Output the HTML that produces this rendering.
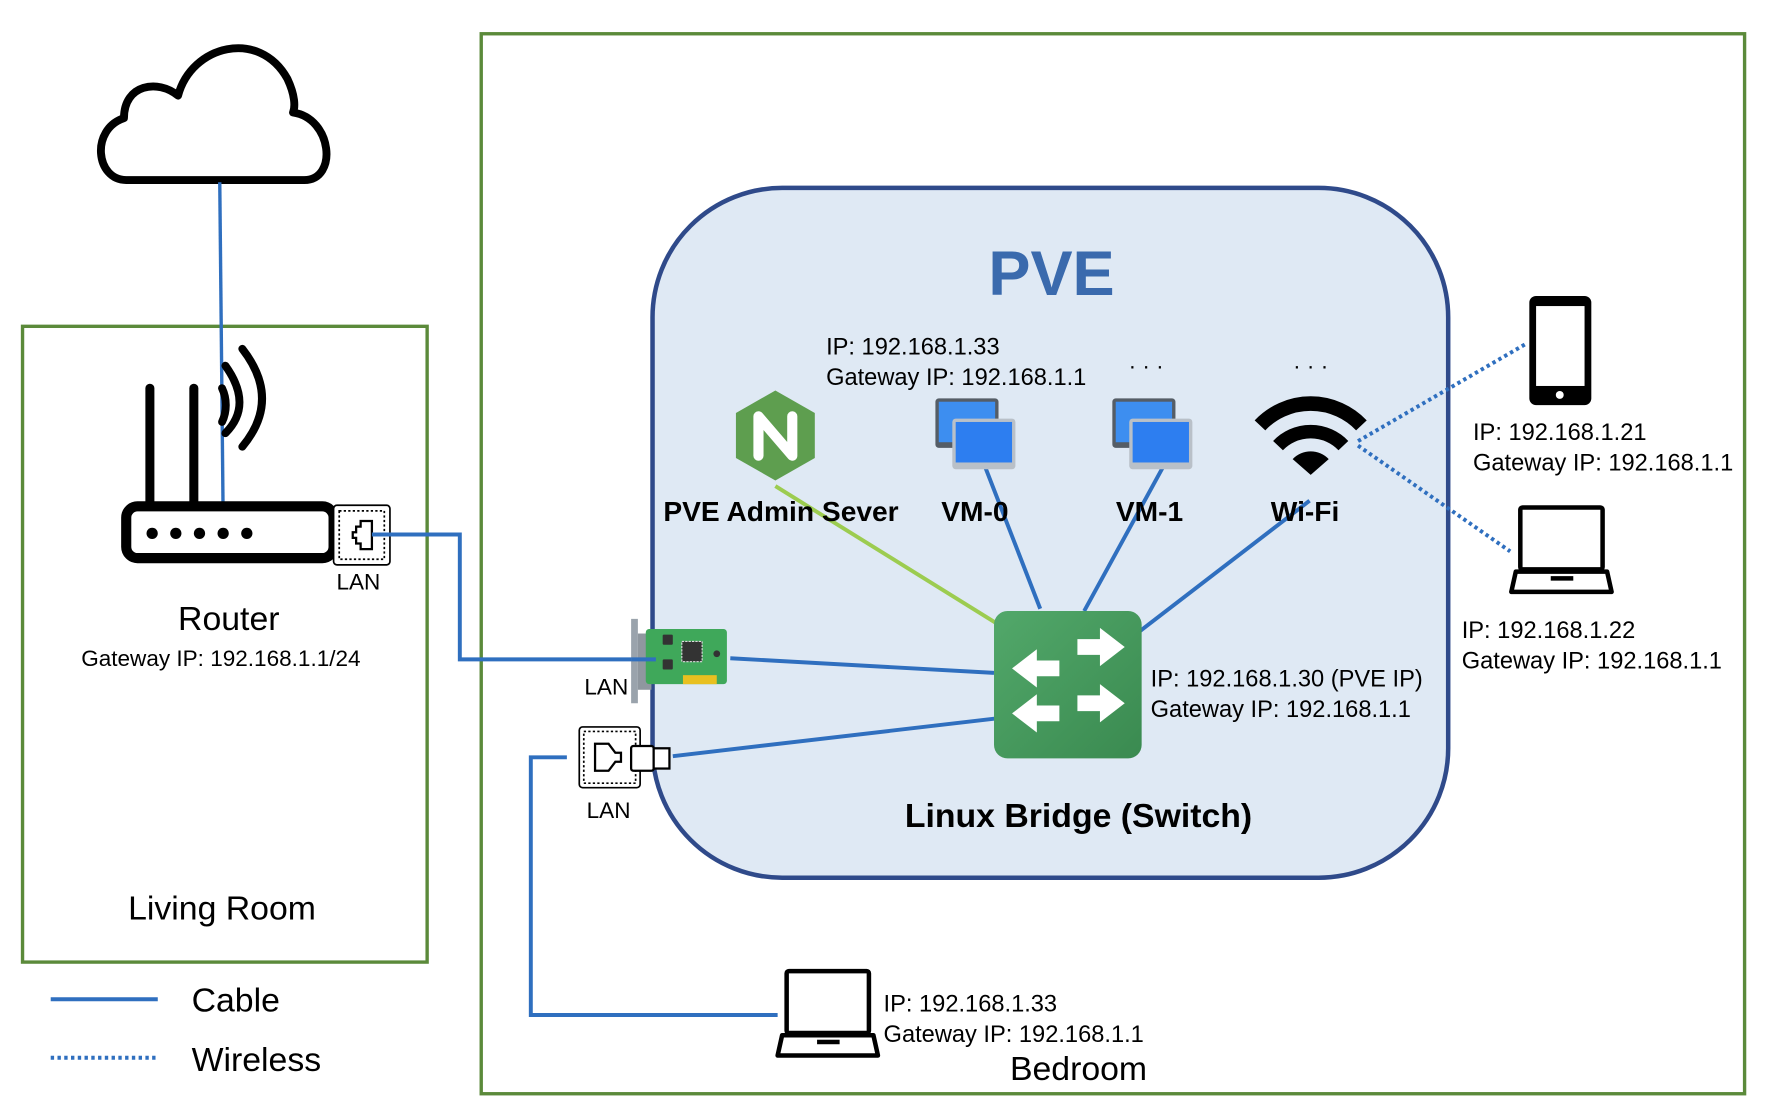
<!DOCTYPE html>
<html><head><meta charset="utf-8"><style>
html,body{margin:0;padding:0;background:#fff;}
svg{display:block;}
text{font-family:"Liberation Sans","DejaVu Sans",sans-serif;}
</style></head><body>
<svg width="1766" height="1114" viewBox="0 0 1567 990" preserveAspectRatio="none" xmlns="http://www.w3.org/2000/svg">
<rect x="427" y="30" width="1121" height="942" fill="none" stroke="#5b8a3a" stroke-width="3"/>
<rect x="20" y="290" width="359" height="565" fill="none" stroke="#5b8a3a" stroke-width="3"/>
<path d="M112,160 C85,160 80,115 110,105 C110,75 140,70 158,85 C170,40 230,25 255,70 C262,85 262,95 260,100 C295,105 300,160 270,160 Z" fill="#fff" stroke="#000" stroke-width="7" stroke-linejoin="round"/>
<line x1="195" y1="162" x2="198" y2="460" stroke="#2f6fbf" stroke-width="3"/>
<line x1="133" y1="345" x2="133" y2="450" stroke="#000" stroke-width="8" stroke-linecap="round"/>
<line x1="172" y1="345" x2="172" y2="450" stroke="#000" stroke-width="8" stroke-linecap="round"/>
<path d="M210,375 A25,30 0 0 0 210,345" fill="none" stroke="#000" stroke-width="7" stroke-linecap="round" transform="translate(-13,0)"/>
<path d="M200,385 Q225,360 200,325" fill="none" stroke="#000" stroke-width="7" stroke-linecap="round"/>
<path d="M215,397 Q250,355 215,310" fill="none" stroke="#000" stroke-width="7" stroke-linecap="round"/>
<rect x="112" y="450" width="184" height="46" rx="10" fill="#fff" stroke="#000" stroke-width="9"/>
<g fill="#000"><circle cx="135" cy="474" r="5"/><circle cx="156" cy="474" r="5"/><circle cx="177" cy="474" r="5"/><circle cx="198" cy="474" r="5"/><circle cx="219" cy="474" r="5"/></g>
<rect x="296" y="449" width="50" height="53" rx="3" fill="#fff" stroke="#000" stroke-width="1.5"/>
<rect x="301" y="454" width="40" height="43" fill="none" stroke="#000" stroke-width="1.5" stroke-dasharray="2,2"/>
<path d="M320,463 h10 v25 h-10 v-5 h-4 v-5 h-3 v-5 h3 v-5 h4 z" fill="#fff" stroke="#000" stroke-width="2"/>
<text x="318" y="524" font-size="20" text-anchor="middle">LAN</text>
<text x="203" y="560" font-size="30" text-anchor="middle">Router</text>
<text x="196" y="592" font-size="20" text-anchor="middle">Gateway IP: 192.168.1.1/24</text>
<text x="197" y="817" font-size="30" text-anchor="middle">Living Room</text>
<polyline points="330,475 408,475 408,586 582,586" fill="none" stroke="#2f6fbf" stroke-width="3.5"/>
<rect x="579" y="167" width="706" height="613" rx="115" fill="#dfe9f4" stroke="#2f4a8a" stroke-width="4"/>
<text x="933" y="262" font-size="56" font-weight="bold" fill="#3a6aad" text-anchor="middle">PVE</text>
<line x1="688" y1="432" x2="886" y2="555" stroke="#9ccc50" stroke-width="3.5"/>
<line x1="873" y1="412" x2="923" y2="541" stroke="#2f6fbf" stroke-width="3.5"/>
<line x1="1032" y1="415" x2="962" y2="543" stroke="#2f6fbf" stroke-width="3.5"/>
<line x1="1162" y1="445" x2="1010" y2="562" stroke="#2f6fbf" stroke-width="3.5"/>
<line x1="648" y1="585" x2="882" y2="598" stroke="#2f6fbf" stroke-width="3.5"/>
<line x1="597" y1="672" x2="888" y2="638" stroke="#2f6fbf" stroke-width="3.5"/>
<polygon points="688,347 723,367 723,407 688,427 653,407 653,367" fill="#5e9e4f"/>
<path d="M673,405 V370 L703,405 V370" fill="none" stroke="#fff" stroke-width="9" stroke-linejoin="round" stroke-linecap="round"/>
<g id="vm">
<rect x="830" y="354" width="56" height="44" rx="3" fill="#555d66"/>
<rect x="833" y="357" width="50" height="36" fill="#3d8ef0"/>
<rect x="845" y="372" width="56" height="45" rx="3" fill="#b9c0c8"/>
<rect x="848" y="375" width="50" height="36" fill="#2d7ef0"/>
</g>
<use href="#vm" transform="translate(157,0)"/>
<path d="M1118,378 A62,62 0 0 1 1208,378" fill="none" stroke="#000" stroke-width="13"/>
<path d="M1134,396 A40,40 0 0 1 1192,396" fill="none" stroke="#000" stroke-width="12"/>
<path d="M1163,422 L1147,408 A22,22 0 0 1 1179,408 Z" fill="#000"/>
<g font-size="25" font-weight="bold" text-anchor="middle">
<text x="693" y="463">PVE Admin Sever</text>
<text x="865" y="463">VM-0</text>
<text x="1020" y="463">VM-1</text>
<text x="1158" y="463">Wi-Fi</text>
</g>
<g font-size="21">
<text x="733" y="315">IP: 192.168.1.33</text>
<text x="733" y="342">Gateway IP: 192.168.1.1</text>
<text x="1017" y="332" text-anchor="middle" font-size="20">· · ·</text>
<text x="1163" y="332" text-anchor="middle" font-size="20">· · ·</text>
<text x="1021" y="610">IP: 192.168.1.30 (PVE IP)</text>
<text x="1021" y="637">Gateway IP: 192.168.1.1</text>
</g>
<defs><linearGradient id="sg" x1="0" y1="0" x2="1" y2="1"><stop offset="0" stop-color="#52a86a"/><stop offset="1" stop-color="#3a8a50"/></linearGradient></defs>
<rect x="882" y="543" width="131" height="131" rx="12" fill="url(#sg)"/>
<g fill="#fff">
<path d="M956,568 h20 v-10 l22,17 l-22,17 v-10 h-20 z"/>
<path d="M956,618 h20 v-10 l22,17 l-22,17 v-10 h-20 z"/>
<path d="M940,587 h-20 v-10 l-22,17 l22,17 v-10 h20 z"/>
<path d="M940,627 h-20 v-10 l-22,17 l22,17 v-10 h20 z"/>
</g>
<text x="957" y="735" font-size="30" font-weight="bold" text-anchor="middle">Linux Bridge (Switch)</text>
<path d="M560,550 h6 v75 h-6 z" fill="#9aa3ac"/>
<rect x="566" y="563" width="12" height="50" fill="#8f979f"/>
<rect x="573" y="559" width="72" height="49" rx="3" fill="#3fa85a"/>
<rect x="588" y="564" width="9" height="9" rx="1" fill="#333"/>
<rect x="588" y="586" width="9" height="9" rx="1" fill="#333"/>
<rect x="605" y="570" width="18" height="18" fill="#333" stroke="#ddd" stroke-dasharray="2,1"/>
<circle cx="636" cy="581" r="3" fill="#333"/>
<rect x="606" y="600" width="30" height="8" fill="#e8c020"/>
<line x1="560" y1="586" x2="582" y2="586" stroke="#2f6fbf" stroke-width="3.5"/>
<text x="538" y="617" font-size="20" text-anchor="middle">LAN</text>
<rect x="514" y="646" width="54" height="54" rx="3" fill="#fff" stroke="#000" stroke-width="1.5"/>
<rect x="518" y="650" width="46" height="46" fill="none" stroke="#000" stroke-width="1.5" stroke-dasharray="2,2"/>
<path d="M528,661 h12 l6,8 h5 v8 h-5 l-6,8 h-12 z" fill="#fff" stroke="#000" stroke-width="2"/>
<rect x="560" y="663" width="20" height="22" rx="2" fill="#fff" stroke="#000" stroke-width="2"/>
<rect x="580" y="665" width="14" height="18" fill="#fff" stroke="#000" stroke-width="2"/>
<text x="540" y="727" font-size="20" text-anchor="middle">LAN</text>
<polyline points="503,673 471,673 471,902 690,902" fill="none" stroke="#2f6fbf" stroke-width="3.5"/>
<line x1="1205" y1="392" x2="1355" y2="305" stroke="#2f6fbf" stroke-width="3.5" stroke-dasharray="3,3"/>
<line x1="1205" y1="396" x2="1340" y2="490" stroke="#2f6fbf" stroke-width="3.5" stroke-dasharray="3,3"/>
<rect x="1357" y="263" width="55" height="97" rx="6" fill="#000"/>
<rect x="1363" y="272" width="43" height="71" fill="#fff"/>
<circle cx="1384" cy="351" r="3.5" fill="#fff"/>
<g id="lap">
<rect x="1349" y="451" width="73" height="55" rx="2" fill="#fff" stroke="#000" stroke-width="4"/>
<path d="M1345,508 h81 l4,18 h-89 z" fill="#fff" stroke="#000" stroke-width="4" stroke-linejoin="round"/>
<rect x="1376" y="512" width="20" height="4" fill="#000"/>
</g>
<use href="#lap" transform="translate(-651,412)"/>
<g font-size="21">
<text x="1307" y="391">IP: 192.168.1.21</text>
<text x="1307" y="418">Gateway IP: 192.168.1.1</text>
<text x="1297" y="567">IP: 192.168.1.22</text>
<text x="1297" y="594">Gateway IP: 192.168.1.1</text>
<text x="784" y="899">IP: 192.168.1.33</text>
<text x="784" y="926">Gateway IP: 192.168.1.1</text>
</g>
<text x="957" y="960" font-size="30" text-anchor="middle">Bedroom</text>
<line x1="45" y1="888" x2="140" y2="888" stroke="#2f6fbf" stroke-width="3.5"/>
<line x1="45" y1="940" x2="140" y2="940" stroke="#2f6fbf" stroke-width="3.5" stroke-dasharray="3,3"/>
<text x="170" y="899" font-size="30">Cable</text>
<text x="170" y="952" font-size="30">Wireless</text>
</svg>
</body></html>
